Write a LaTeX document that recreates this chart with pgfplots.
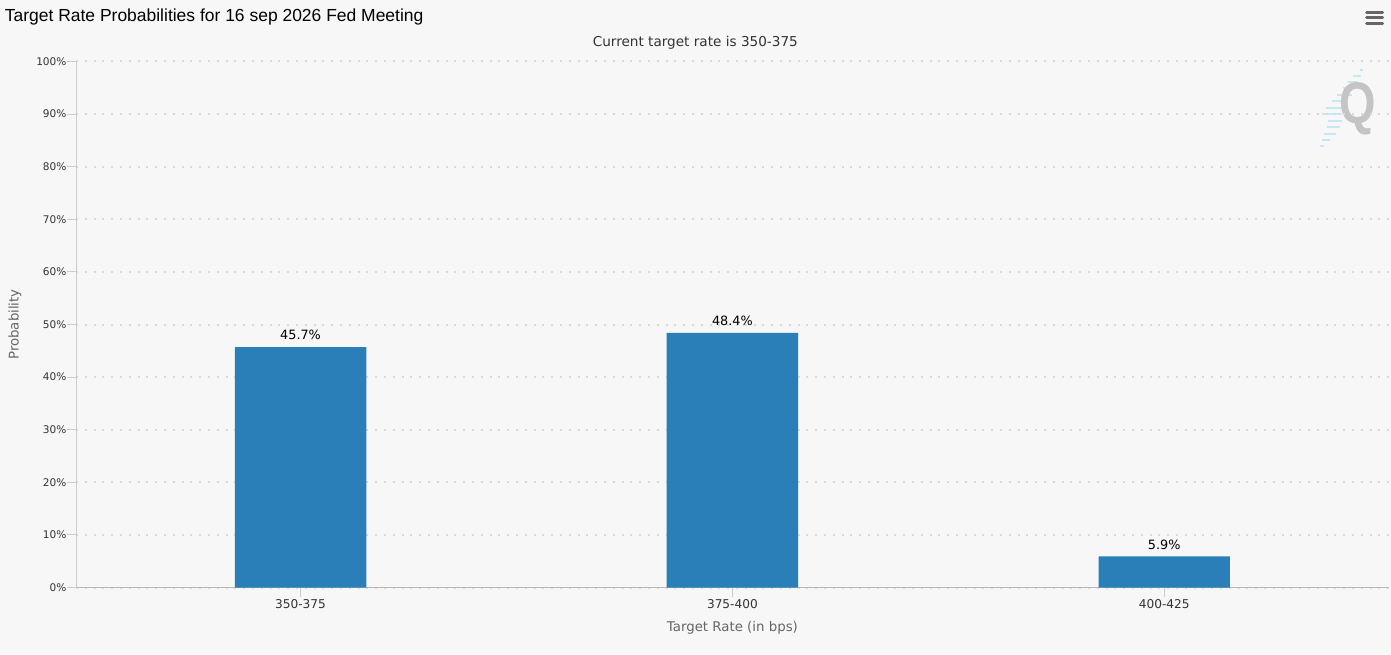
\documentclass[border=0pt]{standalone}
\usepackage{fontspec}
\setmainfont{DejaVu Sans}
\newfontfamily\titlefont{Liberation Sans}
\usepackage{pgfplots}
\pgfplotsset{compat=1.18}
\definecolor{bg}{HTML}{F7F7F7}
\definecolor{barc}{HTML}{2A7FB8}
\definecolor{gridc}{HTML}{DADADA}
\definecolor{axc}{HTML}{CCCCCC}
\definecolor{tickc}{HTML}{333333}
\definecolor{labc}{HTML}{666666}
\definecolor{stripe}{HTML}{C6E7F5}
\definecolor{qc}{HTML}{C4C4C4}
\begin{document}
\begin{tikzpicture}
\useasboundingbox[fill=bg] (0,0) rectangle (1043.25pt,490.5pt);
% watermark
\foreach \ypx/\xl/\xr in {70/1360/1363,76/1353/1361,82/1348/1358,88/1343/1355,95/1337/1352,101/1332/1348,108/1326/1345,114/1322/1342,121/1328/1342,127/1327/1340,134/1324/1336,140/1322/1330,146/1320/1324} {
  \draw[stripe, line width=1.5pt] ({\xl*0.75pt},{(654-\ypx)*0.75pt}) -- ({\xr*0.75pt},{(654-\ypx)*0.75pt});
}
\node[text=qc, font=\titlefont\bfseries\fontsize{44}{44}\selectfont, xscale=0.8, inner sep=0pt] at (1018pt,409pt) {Q};
\begin{axis}[
  at={(57pt,49.875pt)}, anchor=south west,
  scale only axis, width=984.6pt, height=394.5pt,
  xmin=-0.52, xmax=2.52, ymin=0, ymax=100,
  axis x line=bottom, axis y line=left,
  x axis line style={-, draw=axc!90!black, line width=1pt},
  y axis line style={-, draw=axc, line width=0.75pt},
  xtick={0,1,2}, xticklabels={350-375,375-400,400-425},
  ytick={0,10,...,100},
  yticklabel={\pgfmathprintnumber{\tick}\%},
  /pgf/number format/assume math mode=true,
  xticklabel style={font=\fontsize{9.1}{11}\selectfont, text=tickc, anchor=center, yshift=-5.6pt},
  yticklabel style={font=\fontsize{7.9}{10}\selectfont, text=tickc, anchor=east, inner sep=0pt},
  tick align=outside, major tick length=7pt,
  major tick style={draw=axc, line width=0.75pt},
  ymajorgrids, grid style={draw=gridc, line width=1.5pt, dash pattern=on 1.5pt off 5.1pt},
  ybar, bar width=98.6pt, bar shift=0pt,
  nodes near coords={\pgfmathprintnumber[fixed,fixed zerofill,precision=1]{\pgfplotspointmeta}\%},
  every node near coord/.append style={font=\fontsize{9.6}{11}\selectfont, text=black, anchor=south, inner sep=0pt, yshift=5.25pt},
  xlabel={Target Rate (in bps)}, ylabel={Probability},
  every axis x label/.style={at={(axis description cs:0.5,0)}, anchor=center, yshift=-30.4pt, font=\fontsize{10}{12}\selectfont, text=labc},
  every axis y label/.style={at={(axis description cs:0,0.5)}, anchor=center, xshift=-45.75pt, rotate=90, font=\fontsize{10}{12}\selectfont, text=labc},
]
\addplot[fill=barc, draw=none] coordinates {(0,45.7) (1,48.4) (2,5.9)};
\end{axis}
\node[anchor=base west, inner sep=0pt, font=\titlefont\fontsize{13.1}{15}\selectfont] at (3.5pt,474.2pt) {Target Rate Probabilities for 16 sep 2026 Fed Meeting};
\node[anchor=base, inner sep=0pt, text=tickc, font=\fontsize{10.2}{12}\selectfont] at (521.5pt,455.5pt) {Current target rate is 350-375};
\foreach \yy in {481,477,472.75} {
  \draw[labc, line width=2.25pt, line cap=round] (1025pt,\yy pt) -- (1037pt,\yy pt);
}
\end{tikzpicture}
\end{document}
